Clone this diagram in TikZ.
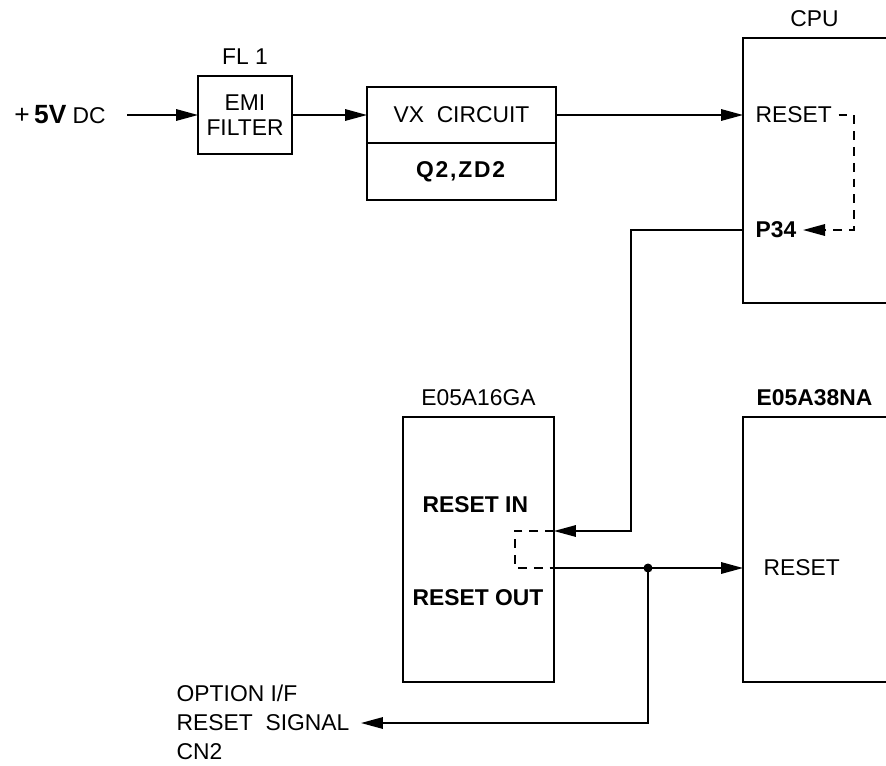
\documentclass[tikz,border=0pt]{standalone}
\usepackage{fontspec}
\setmainfont{Liberation Sans}
\usetikzlibrary{arrows.meta,positioning,calc}
\tikzset{
  blk/.style={draw,rectangle,inner sep=0pt,outer sep=0pt,align=center},
  opn/.style={rectangle,inner sep=0pt,outer sep=0pt,minimum width=2.86cm,minimum height=5.3cm},
  ttl/.style={above=1mm},
  dsh/.style={dash pattern=on 5pt off 4pt}
}

\begin{document}
\begin{tikzpicture}[x=0.02cm,y=-0.02cm,line width=0.95pt,
    font=\fontsize{13}{14}\selectfont,
    >={Triangle[length=0.44cm,width=0.23cm]}]
  \useasboundingbox (0,0) rectangle (886,765);
  % ---------- supply path: +5V -> filter -> VX circuit -> CPU ----------
  \node (vin) at (60,115) {{\fontsize{15}{16}\selectfont+\,\textbf{5V}} DC};
  \node[blk,minimum width=1.88cm,minimum height=1.56cm] (emi) at (245,115) {EMI\\FILTER};
  \node[ttl] at (emi.north) {FL 1};
  \node[blk,minimum width=3.78cm,minimum height=1.12cm] (vxtop) at (461.5,115) {VX\ \ CIRCUIT};
  \node[blk,minimum width=3.78cm,minimum height=1.14cm,below=0pt of vxtop] (vxbot)
    {\addfontfeatures{LetterSpace=8}\textbf{Q2,ZD2}};
  \draw[->] ([xshift=0.3cm]vin.east) -- (emi.west);
  \draw[->] (emi.east) -- (vxtop.west);
  % ---------- CPU ----------
  \node[opn] (cpu) at (814.5,170.5) {};
  \draw (cpu.north east) -- (cpu.north west) -- (cpu.south west) -- (cpu.south east);
  \node[ttl] at (cpu.north) {CPU};
  \node[anchor=west] (cpurst) at (749,115) {RESET};
  \node[anchor=west] (p34) at (749,230) {\textbf{P34}};
  \draw[->] (vxtop.east) -- (cpu.west |- vxtop.east);
  \draw[dsh,->] (cpurst.east) -| ($(p34.east)+(51,0)$) -- (p34.east);
  % ---------- E05A16GA and E05A38NA ----------
  \node[blk,minimum width=3.02cm,minimum height=5.3cm] (e16) at (478.5,549.5) {};
  \node[ttl] at (e16.north) {E05A16GA};
  \node[anchor=west] (rstin) at (416,505) {\textbf{RESET\ IN}};
  \node[anchor=west] (rstout) at (406,598) {\textbf{RESET\ OUT}};
  \node[opn] (e38) at (814.5,549.5) {};
  \draw (e38.north east) -- (e38.north west) -- (e38.south west) -- (e38.south east);
  \node[ttl] at (e38.north) {\textbf{E05A38NA}};
  \node[anchor=west] (e38rst) at (757,568) {RESET};
  \coordinate (inA) at (e16.east |- 0,531);
  \coordinate (outA) at (e16.east |- 0,568);
  \coordinate (jn) at (648,568);
  \draw[->] (cpu.west |- p34.west) -| (631,531) -- (inA);
  \draw[dsh] (inA) -- ++(-39,0) |- (outA);
  \draw[->] (outA) -- (e38.west |- outA);
  \fill (jn) circle (0.09cm);
  % ---------- option I/F ----------
  \node[anchor=west] (sig) at (170,723) {RESET\ \ SIGNAL};
  \node[anchor=west] (opt) at (170,693) {OPTION I/F};
  \node[anchor=west] (cn2) at (170,752) {CN2};
  \draw[->] (jn) |- ([xshift=0.1cm]sig.east);
\end{tikzpicture}
\end{document}
